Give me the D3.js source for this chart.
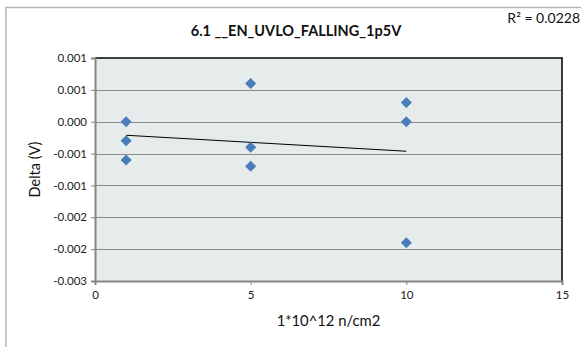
<!DOCTYPE html>
<html><head><meta charset="utf-8">
<script src="https://cdn.jsdelivr.net/npm/d3@7"></script>
<style>body{margin:0;background:#fff}svg{display:block}text{font-family:Lato,"Open Sans",sans-serif}</style>
</head><body>
<script>
const title = "6.1 __EN_UVLO_FALLING_1p5V";
const xLabel = "1*10^12 n/cm2";
const yLabel = "Delta (V)";
const r2Label = "R² = 0.0228";
const xValues = [1, 1, 1, 5, 5, 5, 10, 10, 10];
const yValues = [0, -0.0003, -0.0006, 0.0006, -0.0004, -0.0007, 0.0003, 0, -0.0019];
const xTicks = [0, 5, 10, 15];
const yTicks = [0.001, 0.0005, 0, -0.0005, -0.001, -0.0015, -0.002, -0.0025];
const yTickLabels = ["0.001", "0.001", "0.000", "-0.001", "-0.001", "-0.002", "-0.002", "-0.003"];

const W = 581, H = 347;
const m = {left: 95, right: 562, top: 58, bottom: 281};
const svg = d3.select("body").append("svg").attr("width", W).attr("height", H);

svg.append("rect").attr("x", 6).attr("y", 7.5).attr("width", W).attr("height", H)
  .attr("fill", "#fff").attr("stroke", "#b5b5b5").attr("stroke-width", 1.5);

const x = d3.scaleLinear().domain([0, 15]).range([m.left, m.right]);
const y = d3.scaleLinear().domain([-0.0025, 0.001]).range([m.bottom, m.top]);

svg.append("rect").attr("x", m.left).attr("y", m.top).attr("width", m.right - m.left)
  .attr("height", m.bottom - m.top).attr("fill", "#e6ebeb");

// gridlines
svg.append("g").selectAll("line").data(yTicks.slice(1)).join("line")
  .attr("x1", m.left).attr("x2", m.right)
  .attr("y1", d => Math.round(y(d)) + 0.5).attr("y2", d => Math.round(y(d)) + 0.5)
  .attr("stroke", "#8a8a8a").attr("stroke-width", 1);

// top & right borders
svg.append("line").attr("x1", m.left).attr("x2", m.right + 0.75).attr("y1", m.top).attr("y2", m.top)
  .attr("stroke", "#000").attr("stroke-width", 1.5);
svg.append("line").attr("x1", m.right).attr("x2", m.right).attr("y1", m.top).attr("y2", m.bottom)
  .attr("stroke", "#000").attr("stroke-width", 1.5);

// axes
const yAxis = d3.axisLeft(y).tickValues(yTicks).tickSize(4).tickPadding(4)
  .tickFormat((d, i) => yTickLabels[i]);
const gy = svg.append("g").attr("transform", `translate(${m.left},0)`).call(yAxis);
gy.select(".domain").attr("stroke", "#868686").attr("stroke-width", 2);
gy.selectAll(".tick line").attr("stroke", "#868686");
gy.selectAll("text").attr("font-size", 11.5).attr("fill", "#222");

const xAxis = d3.axisBottom(x).tickValues(xTicks).tickSize(4).tickPadding(6).tickFormat(d3.format("d"));
const gx = svg.append("g").attr("transform", `translate(0,${m.bottom})`).call(xAxis);
gx.select(".domain").attr("stroke", "#868686").attr("stroke-width", 2);
gx.selectAll(".tick line").attr("stroke", "#868686");
gx.selectAll("text").attr("font-size", 11.5).attr("fill", "#222");

// trendline (least squares)
const n = xValues.length;
const mx = d3.mean(xValues), my = d3.mean(yValues);
let sxy = 0, sxx = 0;
for (let i = 0; i < n; i++) { sxy += (xValues[i]-mx)*(yValues[i]-my); sxx += (xValues[i]-mx)**2; }
const slope = sxy / sxx, icpt = my - slope * mx;
const xMin = d3.min(xValues), xMax = d3.max(xValues);
svg.append("line").attr("x1", x(xMin)).attr("x2", x(xMax))
  .attr("y1", y(icpt + slope * xMin)).attr("y2", y(icpt + slope * xMax))
  .attr("stroke", "#000").attr("stroke-width", 1);

// points
const sym = d3.symbol().type(d3.symbolDiamond2).size(78);
svg.append("g").selectAll("path").data(xValues.map((v, i) => [v, yValues[i]])).join("path")
  .attr("d", sym).attr("transform", d => `translate(${x(d[0])},${y(d[1])})`)
  .attr("fill", "#4a7ebb");

// texts
svg.append("text").attr("x", 296).attr("y", 36).attr("text-anchor", "middle")
  .attr("font-size", 14.5).attr("font-weight", "bold").attr("fill", "#111").text(title);
svg.append("text").attr("x", 580).attr("y", 23).attr("text-anchor", "end")
  .attr("font-size", 14).attr("fill", "#111").text(r2Label);
svg.append("text").attr("x", (m.left + m.right) / 2).attr("y", 326).attr("text-anchor", "middle")
  .attr("font-size", 14.8).attr("fill", "#111").text(xLabel);
svg.append("text").attr("transform", `translate(40,${(m.top + m.bottom) / 2}) rotate(-90)`)
  .attr("text-anchor", "middle").attr("font-size", 14.5).attr("fill", "#111").text(yLabel);
</script>
</body></html>
